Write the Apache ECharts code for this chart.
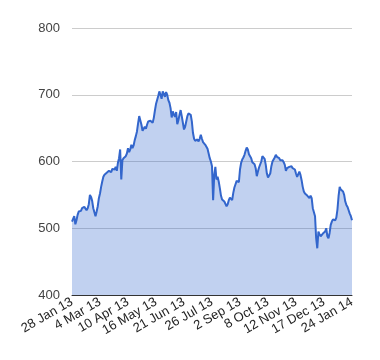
<!DOCTYPE html>
<html>
<head>
<meta charset="utf-8">
<script src="https://cdn.jsdelivr.net/npm/echarts@6/dist/echarts.min.js"></script>
<style>html,body{margin:0;padding:0;background:#fff}#c{width:380px;height:360px}</style>
</head>
<body>
<div id="c"></div>
<script>
var tickLabels = ["28 Jan 13","4 Mar 13","10 Apr 13","16 May 13","21 Jun 13","26 Jul 13","2 Sep 13","8 Oct 13","12 Nov 13","17 Dec 13","24 Jan 14"];
var labelEvery = 25;
var values = [
510,512,518,506,512,520,525,527,526,530,
529,532,533,527,530,536,550,547,541,530,
524,518,525,533,545,552,562,570,577,580,
578,583,581,586,587,584,589,590,588,592,
586,598,605,618,573,602,605,603,608,612,
620,614,618,625,620,624,632,638,645,657,
668,666,655,646,647,652,649,655,660,662,
661,660,658,665,676,686,692,698,705,700,
694,705,707,697,704,700,692,688,680,666,
675,670,667,674,656,662,670,677,668,658,
648,652,660,668,672,671,670,660,643,634,
631,630,633,630,634,640,634,629,627,625,
622,619,612,605,600,593,542,580,592,573,
577,570,560,549,543,542,540,538,533,536,
542,546,545,542,553,561,566,571,572,569,
588,598,603,606,610,616,621,618,611,613,
605,599,597,596,590,578,585,591,592,600,
608,610,604,595,582,576,578,582,593,600,
603,606,610,607,605,605,602,601,602,599,
595,586,590,592,592,594,593,590,592,588,
582,577,578,585,580,572,562,555,552,552,
549,547,545,549,545,530,530,518,485,470,
495,491,488,487,492,494,495,500,488,485,
493,505,510,513,515,512,516,528,548,562,
558,556,555,550,540,535,532,527,522,518,
512
];
var categories = values.map(function(v, i){ return String(i); });

var chart = echarts.init(document.getElementById('c'), null, {renderer:'canvas'});
chart.setOption({
  animation: false,
  grid: {left: 72, right: 28, top: 28, bottom: 65, containLabel: false},
  xAxis: {
    type: 'category',
    data: categories,
    boundaryGap: false,
    axisLine: {show: true, lineStyle: {color: '#333', width: 1}},
    axisTick: {show: false},
    axisLabel: {
      interval: labelEvery - 1,
      rotate: 30,
      margin: 6,
      color: '#222',
      fontSize: 13,
      fontFamily: 'Arial, "Liberation Sans", sans-serif',
      formatter: function(v, idx){ return idx % labelEvery === 0 ? tickLabels[idx / labelEvery] : ''; }
    },
    splitLine: {show: false}
  },
  yAxis: {
    type: 'value',
    min: 400, max: 800, interval: 100,
    axisLine: {show: false},
    axisTick: {show: false},
    axisLabel: {color: '#444', fontSize: 13, margin: 12, fontFamily: 'Arial, "Liberation Sans", sans-serif'},
    splitLine: {lineStyle: {color: '#ccc', width: 1}}
  },
  series: [{
    type: 'line',
    data: values,
    symbol: 'none',
    lineStyle: {color: '#3366cc', width: 2},
    areaStyle: {color: '#3366cc', opacity: 0.3},
    itemStyle: {color: '#3366cc'}
  }]
});
</script>
</body>
</html>
